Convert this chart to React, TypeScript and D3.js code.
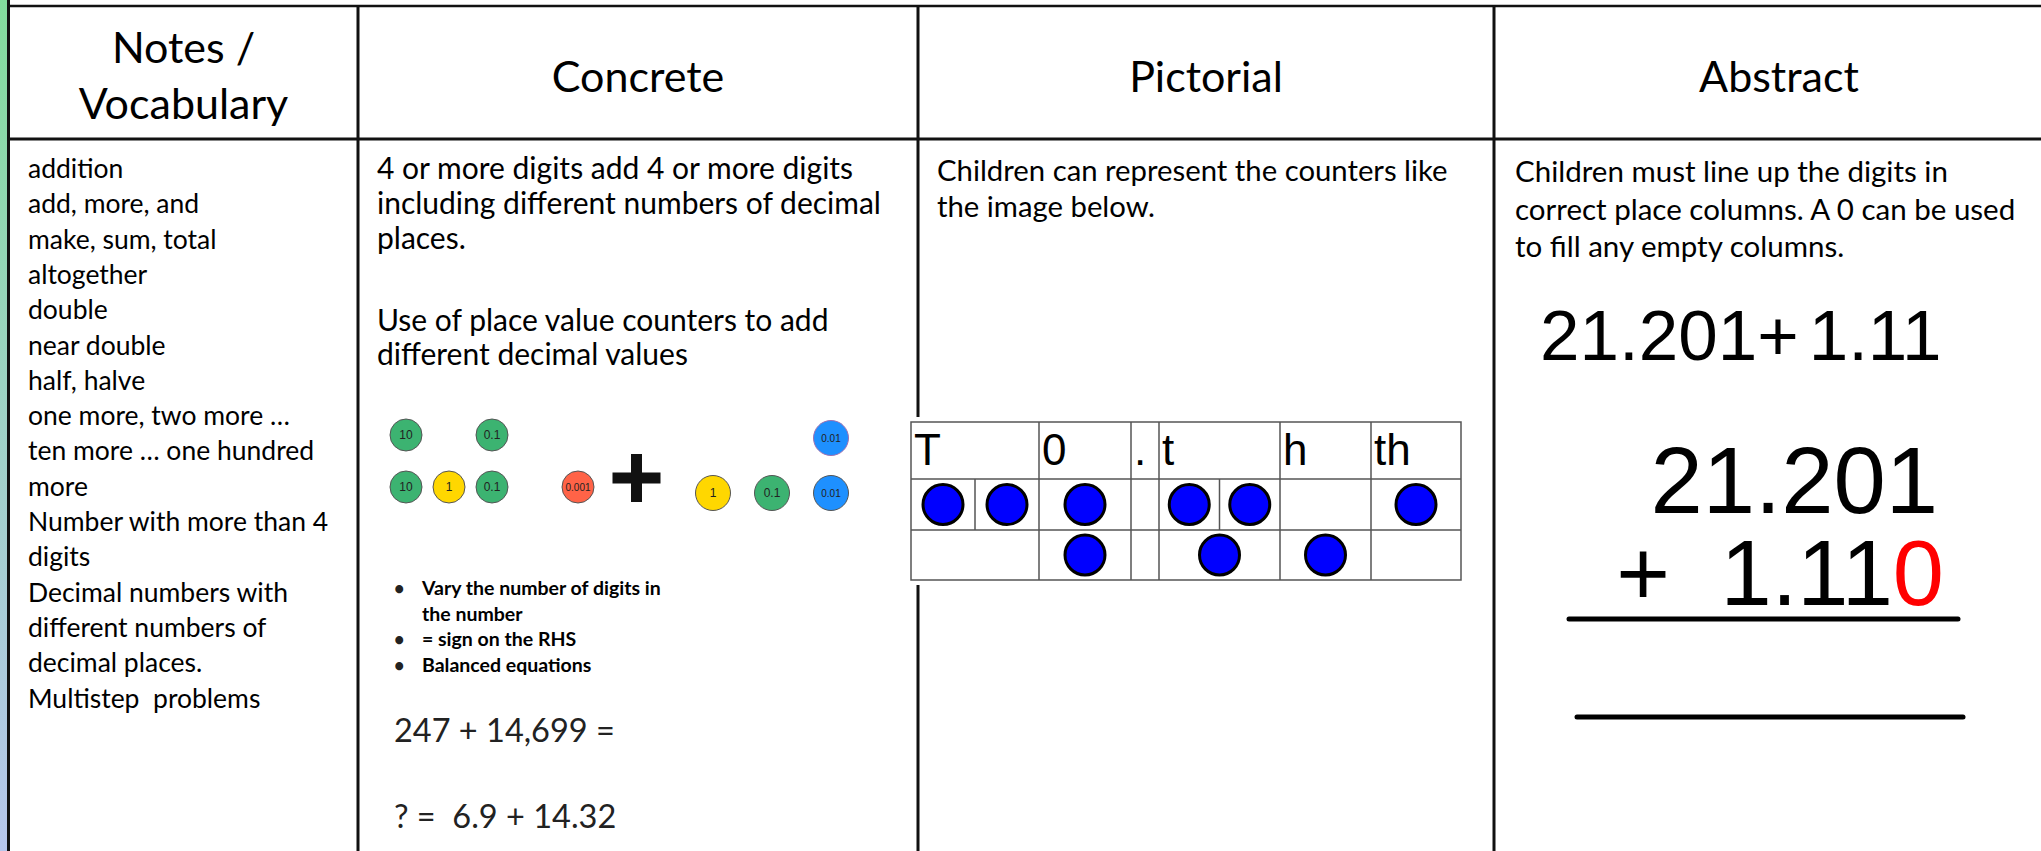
import React from 'react'
import * as d3 from 'd3'

// ---- table text ----
const headerLines = [['Notes /', 'Vocabulary'], ['Concrete'], ['Pictorial'], ['Abstract']]

const vocabulary = [
	'addition',
	'add, more, and',
	'make, sum, total',
	'altogether',
	'double',
	'near double',
	'half, halve',
	'one more, two more \u2026',
	'ten more \u2026 one hundred',
	'more',
	'Number with more than 4',
	'digits',
	'Decimal numbers with',
	'different numbers of',
	'decimal places.',
	'Multistep  problems',
]

const concreteIntro = ['4 or more digits add 4 or more digits', 'including different numbers of decimal', 'places.']
const concreteUse = ['Use of place value counters to add', 'different decimal values']
const concreteBullets = [['Vary the number of digits in', 'the number'], ['= sign on the RHS'], ['Balanced equations']]
const concreteSums = ['247 + 14,699 =', '? =  6.9 + 14.32']

const pictorialLines = ['Children can represent the counters like', 'the image below.']

const abstractLines = ['Children must line up the digits in', 'correct place columns. A 0 can be used', 'to fill any empty columns.']
const abstractLeft = '21.201'
const abstractRight = '1.11'
const columnTop = '21.201'
const columnBottom = '1.11'
const paddingZero = '0'

// ---- place value counters (concrete) ----
const counterPlaces = ['10', '1', '0.1', '0.01', '0.001']
const counterColors = ['#3cb371', '#ffd700', '#3cb371', '#1e90ff', '#ff6347']
const leftCounts = [2, 1, 2, 0, 1]
const rightCounts = [0, 1, 1, 2, 0]

// ---- place value grid (pictorial) ----
const gridLabels = ['T', '0', '.', 't', 'h', 'th']
const gridRowA = [2, 1, 0, 2, 0, 1]
const gridRowB = [0, 1, 0, 1, 1, 0]

// layout
const W = 2041
const H = 851
const tableCols = [349, 560, 576, 560]
const tableLeft = 9
const gridWeights = [128, 92, 28, 121, 91, 90]

const bodyFont = 'Lato, "Open Sans", sans-serif'
const mathFont = '"Liberation Sans", Arial, sans-serif'

function Lines(props: { lines: string[], x: number, y: number, step: number, size: number, weight?: number, anchor?: string }) {
	const { lines, x, y, step, size, weight, anchor } = props
	return (
		<text x={x} y={y} fontSize={size} fontFamily={bodyFont} fontWeight={weight || 400} fill="#000" textAnchor={anchor || 'start'} style={{ whiteSpace: 'pre' }}>
			{lines.map((l, i) => (
				<tspan key={i} x={x} y={y + i * step}>{l}</tspan>
			))}
		</text>
	)
}

export default function App() {
	const edges = [tableLeft, ...Array.from(d3.cumsum(tableCols), (d) => tableLeft + d)]

	// concrete counters
	const leftX = d3.scalePoint<string>().domain(counterPlaces).range([406, 578])
	const leftY = d3.scalePoint<number>().domain([0, 1]).range([487, 435])
	const rightPlaces = counterPlaces.filter((_, i) => rightCounts[i] > 0)
	const rightX = d3.scalePoint<string>().domain(rightPlaces).range([713, 831])
	const rightY = d3.scalePoint<number>().domain([0, 1]).range([493, 438])

	const counters: { x: number, y: number, r: number, label: string, color: string, stroke: string }[] = []
	counterPlaces.forEach((p, i) => {
		d3.range(leftCounts[i]).forEach((k) => {
			counters.push({ x: leftX(p)!, y: leftY(k)!, r: 16, label: p, color: counterColors[i], stroke: '#555' })
		})
		d3.range(rightCounts[i]).forEach((k) => {
			counters.push({ x: rightX(p)!, y: rightY(k)!, r: 17.5, label: p, color: counterColors[i], stroke: k > 0 && p === '0.01' ? '#a070b0' : '#555' })
		})
	})
	const plusX = (leftX('0.001')! + rightX('1')!) / 2 - 9
	const plusY = 478

	// grid
	const gx = d3.scaleLinear().domain([0, d3.sum(gridWeights)]).range([911, 1461])
	const gEdges = [0, ...Array.from(d3.cumsum(gridWeights))].map((d) => gx(d))
	const gRows = [422, 479, 530, 580]
	const gridCells: { x: number, y: number }[] = []
	const gridSplits: number[] = []
	;[gridRowA, gridRowB].forEach((row, ri) => {
		row.forEach((n, ci) => {
			const x0 = gEdges[ci]
			const x1 = gEdges[ci + 1]
			const sub = d3.scaleBand<number>().domain(d3.range(n)).range([x0, x1])
			d3.range(n).forEach((k) => {
				gridCells.push({ x: sub(k)! + sub.bandwidth() / 2, y: (gRows[ri + 1] + gRows[ri + 2]) / 2 })
				if (k > 0) gridSplits.push(sub(k)!)
			})
		})
	})

	return (
		<svg width={W} height={H} style={{ position: 'absolute', left: 0, top: 0, background: '#fff' }}>
			<defs>
				<linearGradient id="edge" x1="0" y1="0" x2="0" y2="1">
					<stop offset="0" stopColor="#82dc9c" />
					<stop offset="0.5" stopColor="#9fd2c6" />
					<stop offset="1" stopColor="#b6c6ec" />
				</linearGradient>
			</defs>
			<rect x={0} y={0} width={W} height={H} fill="#fff" />
			<rect x={0} y={0} width={8} height={H} fill="url(#edge)" />

			{/* table rules */}
			<line x1={8.5} x2={8.5} y1={0} y2={H} stroke="#111" strokeWidth={3} />
			<line x1={7} x2={W} y1={6} y2={6} stroke="#111" strokeWidth={2.5} />
			<line x1={7} x2={W} y1={139} y2={139} stroke="#111" strokeWidth={3} />
			{edges.slice(1, 4).map((x, i) => (
				<line key={i} x1={x} x2={x} y1={5} y2={H} stroke="#111" strokeWidth={3} />
			))}

			{/* headers */}
			{headerLines.map((ls, i) => {
				const cx = i < 3 ? (edges[i] + edges[i + 1]) / 2 : 1779
				const y0 = ls.length > 1 ? 63 : 92
				return <Lines key={i} lines={ls} x={cx} y={y0} step={56} size={43} anchor="middle" />
			})}

			{/* notes column */}
			<Lines lines={vocabulary} x={28} y={178} step={35.3} size={26.5} />

			{/* concrete column */}
			<Lines lines={concreteIntro} x={377} y={179} step={35} size={30} />
			<Lines lines={concreteUse} x={377} y={331} step={34} size={30} />
			{counters.map((c, i) => (
				<g key={i}>
					<circle cx={c.x} cy={c.y} r={c.r} fill={c.color} stroke={c.stroke} strokeWidth={1} />
					<text x={c.x} y={c.y + 4} textAnchor="middle" fontFamily={mathFont} fontSize={c.label.length > 3 ? 10 : 12} fill="#222">{c.label}</text>
				</g>
			))}
			<path d={`M${plusX - 24},${plusY}H${plusX + 24}M${plusX},${plusY - 24}V${plusY + 24}`} stroke="#111" strokeWidth={11} />
			{concreteBullets.map((b, i) => {
				const before = d3.sum(concreteBullets.slice(0, i), (d) => d.length)
				const y = 595 + before * 25.7
				return (
					<g key={i}>
						<text x={394} y={y} fontFamily={bodyFont} fontSize={18} fontWeight={700} fill="#222">{'\u2022'}</text>
						<Lines lines={b} x={422} y={y} step={25.7} size={19.5} weight={700} />
					</g>
				)
			})}
			{concreteSums.map((s, i) => (
				<text key={i} x={394} y={742 + i * 86} fontFamily={bodyFont} fontSize={32.5} fill="#222" style={{ whiteSpace: 'pre' }}>{s}</text>
			))}

			{/* pictorial column */}
			<Lines lines={pictorialLines} x={937} y={181} step={36} size={29.3} />
			<rect x={905} y={417} width={560} height={168} fill="#fff" />
			<g stroke="#555" strokeWidth={1.5}>
				<rect x={gEdges[0]} y={gRows[0]} width={gEdges[gEdges.length - 1] - gEdges[0]} height={gRows[3] - gRows[0]} fill="none" />
				{gEdges.slice(1, -1).map((x, i) => (
					<line key={i} x1={x} x2={x} y1={gRows[0]} y2={gRows[3]} />
				))}
				{gRows.slice(1, 3).map((y, i) => (
					<line key={i} x1={gEdges[0]} x2={gEdges[gEdges.length - 1]} y1={y} y2={y} />
				))}
				{gridSplits.map((x, i) => (
					<line key={i} x1={x} x2={x} y1={gRows[1]} y2={gRows[2]} />
				))}
			</g>
			{gridLabels.map((l, i) => (
				<text key={i} x={gEdges[i] + 3} y={465} fontFamily={mathFont} fontSize={44} fill="#000">{l}</text>
			))}
			{gridCells.map((c, i) => (
				<circle key={i} cx={c.x} cy={c.y} r={20} fill="#0000ff" stroke="#000" strokeWidth={3} />
			))}

			{/* abstract column */}
			<Lines lines={abstractLines} x={1515} y={182} step={37.5} size={29.5} />
			<text x={1540} y={360} fontFamily={mathFont} fontSize={71} fill="#000">
				{abstractLeft}
				<tspan>+</tspan>
				<tspan dx={10}>{abstractRight}</tspan>
			</text>
			<text x={1938} y={513} textAnchor="end" fontFamily={mathFont} fontSize={94} fill="#000">{columnTop}</text>
			<text x={1643} y={605} textAnchor="middle" fontFamily={mathFont} fontSize={92} fill="#000">+</text>
			<text x={1944} y={605} textAnchor="end" fontFamily={mathFont} fontSize={92} fill="#000">
				{columnBottom}
				<tspan fill="#ff0000">{paddingZero}</tspan>
			</text>
			<line x1={1569} x2={1958} y1={619} y2={619} stroke="#000" strokeWidth={5} strokeLinecap="round" />
			<line x1={1577} x2={1963} y1={717} y2={717} stroke="#000" strokeWidth={5} strokeLinecap="round" />
		</svg>
	)
}
